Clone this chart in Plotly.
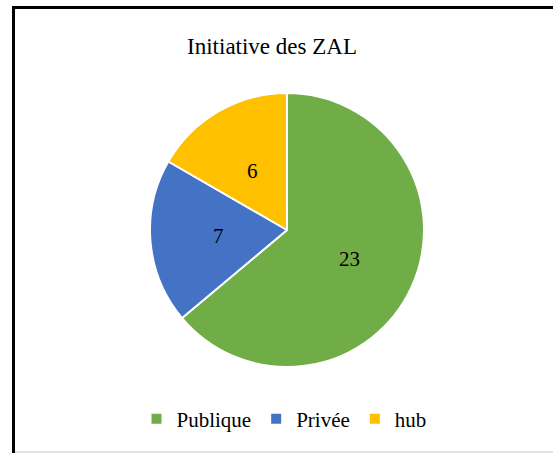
import math
import plotly.graph_objects as go

# Origin of the ZAL initiatives
categories = ["Publique", "Privée", "hub"]
counts = [23, 7, 6]
slice_colors = ["#70AD47", "#4472C4", "#FFC000"]

W, H = 553, 453
SERIF = "Times New Roman"

# pie placement (pixels)
CX, CY, R = 287, 230, 137
dom_x = [(CX - R) / W, (CX + R) / W]
dom_y = [1 - (CY + R) / H, 1 - (CY - R) / H]

fig = go.Figure(
    go.Pie(
        labels=categories,
        values=counts,
        sort=False,
        direction="clockwise",
        rotation=0,
        marker=dict(colors=slice_colors, line=dict(color="white", width=2)),
        textinfo="none",
        hoverinfo="label+value",
        domain=dict(x=dom_x, y=dom_y),
    )
)

# value labels placed halfway out along each slice's bisector
total = sum(counts)
start = 0.0
for v in counts:
    mid = (start + v / 2) / total * 2 * math.pi
    start += v
    px = CX + 0.5 * R * math.sin(mid)
    py = CY - 0.5 * R * math.cos(mid)
    fig.add_annotation(
        x=px / W, y=1 - py / H, xref="paper", yref="paper",
        text=str(v), showarrow=False,
        xanchor="center", yanchor="middle",
        font=dict(family=SERIF, size=21, color="black"),
    )

# chart frame: heavy black left/top edges, faint grey bottom edge
fig.add_shape(type="line", xref="paper", yref="paper",
              x0=13.5 / W, x1=13.5 / W, y0=0, y1=1 - 6 / H,
              line=dict(color="black", width=3))
fig.add_shape(type="line", xref="paper", yref="paper",
              x0=12 / W, x1=1, y0=1 - 7.5 / H, y1=1 - 7.5 / H,
              line=dict(color="black", width=3))
fig.add_shape(type="line", xref="paper", yref="paper",
              x0=15 / W, x1=1, y0=1 - 452 / H, y1=1 - 452 / H,
              line=dict(color="#d9d9d9", width=1.5))

fig.update_layout(
    width=W,
    height=H,
    margin=dict(l=0, r=0, t=0, b=0),
    paper_bgcolor="white",
    plot_bgcolor="white",
    font=dict(family=SERIF, color="black"),
    title=dict(
        text="Initiative des ZAL",
        x=272 / W,
        xanchor="center",
        y=1 - 46 / H,
        yanchor="middle",
        font=dict(family=SERIF, size=23, color="black"),
    ),
    showlegend=True,
    legend=dict(
        orientation="h",
        x=284 / W,
        xanchor="center",
        y=1 - 419 / H,
        yanchor="middle",
        font=dict(family=SERIF, size=21, color="black"),
        itemwidth=30,
        bgcolor="rgba(0,0,0,0)",
    ),
)

fig.write_html("out.html")
